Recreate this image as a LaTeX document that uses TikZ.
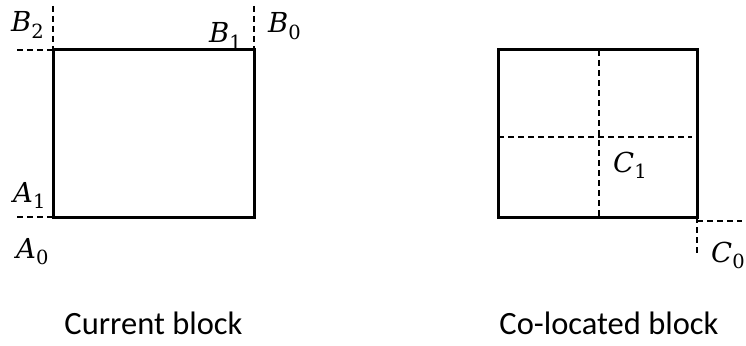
\documentclass[tikz,border=0pt]{standalone}
\usepackage{fontspec}
\setmainfont{Carlito}
\newfontfamily\labelfont{DejaVu Serif}
% italic letter with an upright subscript index
\newcommand\cornerlabel[2]{{\labelfont\itshape #1}\raisebox{-0.22em}{\labelfont\fontsize{19.5}{20}\selectfont #2}}
\begin{document}
\begin{tikzpicture}[x=1pt,y=-1pt,
  block/.style={line width=3pt, line join=miter},
  guide/.style={line width=1.2pt, dash pattern=on 6pt off 4pt},
  corner/.style={inner sep=0pt, anchor=base west, font=\fontsize{27.5}{30}\selectfont},
  caption/.style={inner sep=0pt, anchor=base, font=\fontsize{32.5}{36}\selectfont}]
  \useasboundingbox (0,0) rectangle (746,345);

  % current block
  \coordinate (ctl) at (53,50);
  \coordinate (cbr) at (254,217);
  \draw[block] (ctl) rectangle (cbr);
  \draw[guide] (53,6) -- (ctl);
  \draw[guide] (17,50) -- (ctl);
  \draw[guide] (254,6) -- (254,50);
  \draw[guide] (17,217) -- (53,217);

  \node[corner] (b2) at (11,32) {\cornerlabel{B}{2}};
  \node[corner] (b1) at (209,43) {\cornerlabel{B}{1}};
  \node[corner] (b0) at (268,33) {\cornerlabel{B}{0}};
  \node[corner] (a1) at (13,202) {\cornerlabel{A}{1}};
  \node[corner] (a0) at (16,258) {\cornerlabel{A}{0}};

  % co-located block
  \coordinate (ltl) at (498,50);
  \coordinate (lbr) at (697,217);
  \draw[guide] (599,50) -- (599,217);
  \draw[guide] (498,137) -- (692,137);
  \draw[block] (ltl) rectangle (lbr);
  \draw[guide] (697,221) -- (742,221);
  \draw[guide] (697,217) -- (697,254);

  \node[corner] (c1) at (613,172) {\cornerlabel{C}{1}};
  \node[corner] (c0) at (711,262) {\cornerlabel{C}{0}};

  % captions
  \node[caption] (cur) at (153.5,334) {Current block};
  \node[caption] (col) at (609,334) {Co-located block};
\end{tikzpicture}
\end{document}
